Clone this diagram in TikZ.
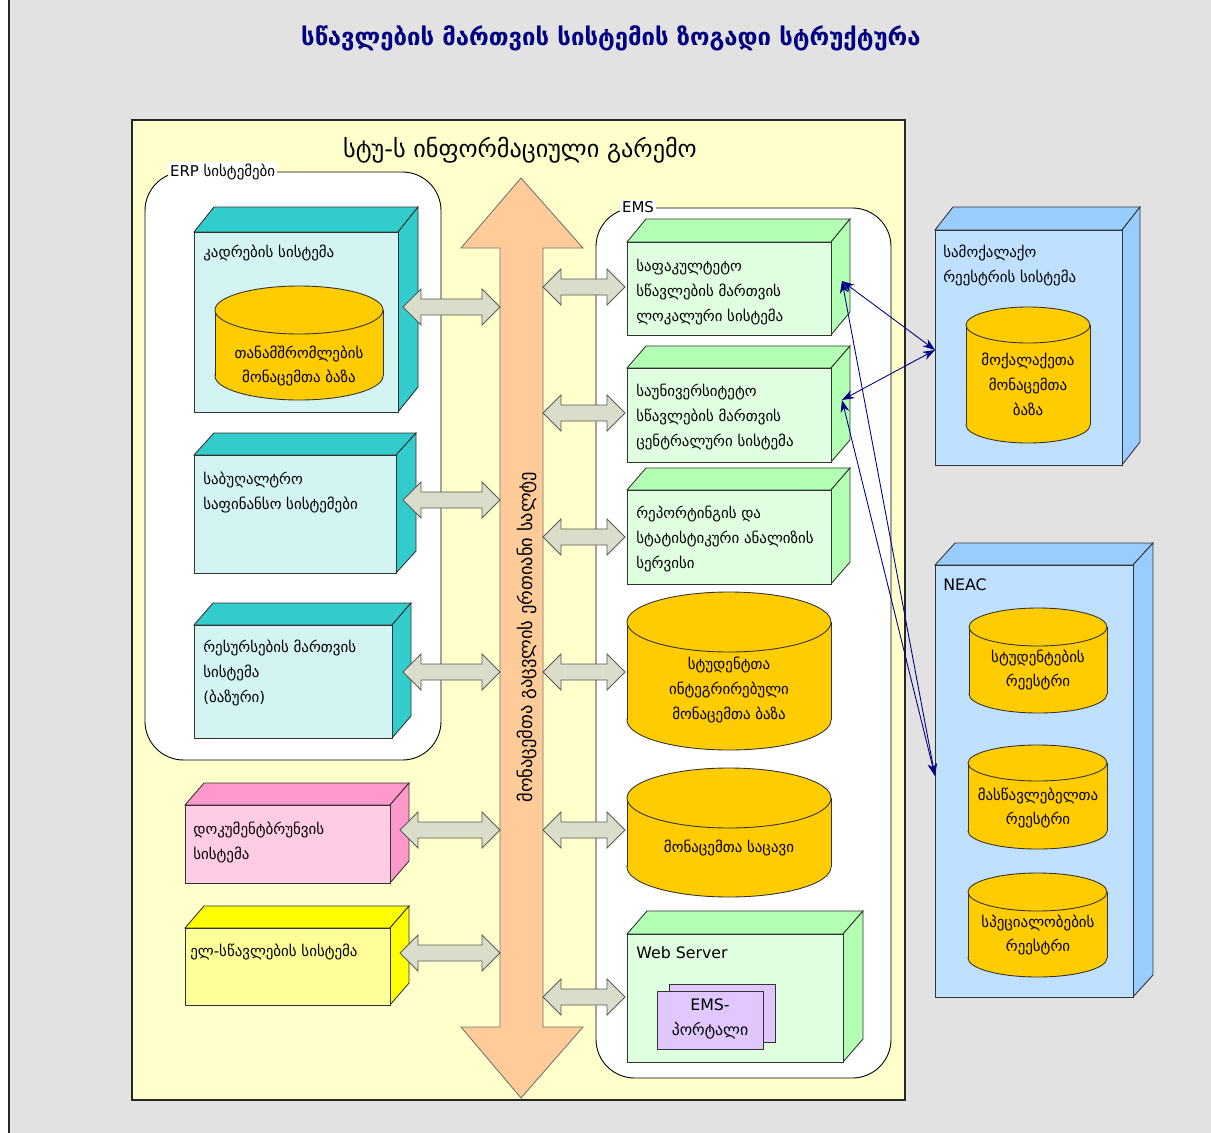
\documentclass[tikz,border=0pt]{standalone}
\usepackage{fontspec}
\setmainfont{DejaVu Sans}
\usetikzlibrary{arrows.meta}
\definecolor{bggray}{HTML}{E2E2E2}
\definecolor{panel}{HTML}{FFFFCC}
\definecolor{cyanF}{HTML}{D4F4F4}
\definecolor{cyanS}{HTML}{33CCCC}
\definecolor{greenF}{HTML}{E0FFE0}
\definecolor{greenS}{HTML}{B3FFB3}
\definecolor{pinkF}{HTML}{FFCCE6}
\definecolor{pinkS}{HTML}{FF99CC}
\definecolor{yelF}{HTML}{FFFF99}
\definecolor{yelS}{HTML}{FFFF00}
\definecolor{blueF}{HTML}{C0E0FF}
\definecolor{blueS}{HTML}{99CCFF}
\definecolor{cylcol}{HTML}{FFCC00}
\definecolor{orangeA}{HTML}{FFCC99}
\definecolor{grayA}{HTML}{DADDCA}
\definecolor{lav}{HTML}{E0C8FF}
\definecolor{navy}{HTML}{000080}
\newcommand\cuboid[8]{%
  \filldraw[boxline, fill=#8] (#1,#2) -- (#1+#5,#2-#6) -- (#3+#5,#2-#6) -- (#3,#2) -- cycle;
  \filldraw[boxline, fill=#8] (#3,#2) -- (#3+#5,#2-#6) -- (#3+#5,#4-#6) -- (#3,#4) -- cycle;
  \filldraw[boxline, fill=#7] (#1,#2) rectangle (#3,#4);}
\newcommand\cylind[5]{%
  \filldraw[boxline, fill=cylcol] ({(#1+#3)/2},#4) ellipse [x radius={(#3-#1)/2}, y radius=#5];
  \fill[cylcol] (#1,#2) rectangle (#3,#4);
  \draw[boxline] (#1,#2) -- (#1,#4) (#3,#2) -- (#3,#4);
  \filldraw[boxline, fill=cylcol] ({(#1+#3)/2},#2) ellipse [x radius={(#3-#1)/2}, y radius=#5];}
\newcommand\hdarrow[3]{%
  \filldraw[blockarr] (#1,#3) -- (#1+18,#3-18) -- (#1+18,#3-8) -- (#2-18,#3-8) -- (#2-18,#3-18)
    -- (#2,#3) -- (#2-18,#3+18) -- (#2-18,#3+8) -- (#1+18,#3+8) -- (#1+18,#3+18) -- cycle;}
\begin{document}
\begin{tikzpicture}[x=0.02cm,y=-0.02cm,
  boxline/.style={draw=black!80, line width=0.5pt},
  blockarr/.style={fill=grayA, draw=black!65, line width=0.5pt},
  txt/.style={anchor=north west, inner sep=0pt, align=left, font=\fontsize{8.5}{14.2}\selectfont},
  ctxt/.style={anchor=center, inner sep=0pt, align=center, font=\fontsize{8.5}{14.2}\selectfont},
  tag/.style={anchor=west, inner sep=1pt, fill=white, font=\fontsize{8.5}{10}\selectfont},
  link/.style={draw=navy, line width=0.5pt, {Stealth[length=7pt,width=5pt]}-{Stealth[length=7pt,width=5pt]}}]
\useasboundingbox (0,0) rectangle (1211,1133);
\fill[white] (0,0) rectangle (1211,1133);
\fill[bggray] (9,0) rectangle (1211,1133);
\draw[black!85, line width=0.8pt] (9,0) -- (9,1133);
% title
\node[font=\bfseries\fontsize{13.6}{15}\selectfont, text=navy] (title) at (611,38) {სწავლების მართვის სისტემის ზოგადი სტრუქტურა};
% main panel
\filldraw[fill=panel, draw=black!85, line width=0.6pt] (132,120) rectangle (905,1100);
\node[font=\fontsize{13.8}{15}\selectfont] (sub) at (520,150) {სტუ-ს ინფორმაციული გარემო};
% rounded groups
\filldraw[fill=white, draw=black, line width=0.5pt, rounded corners=22] (145,172) rectangle (441,760);
\node[tag] (erp) at (168,172) {ERP სისტემები};
\filldraw[fill=white, draw=black, line width=0.5pt, rounded corners=22] (596,208) rectangle (891,1078);
\node[tag] (ems) at (620,207) {EMS};
% big vertical arrow
\filldraw[fill=orangeA, draw=black!55, line width=0.5pt] (521,178) -- (583,248) -- (543,248) -- (543,1027) -- (583,1027)
  -- (521,1098) -- (461,1027) -- (500,1027) -- (500,248) -- (461,248) -- cycle;
\node[rotate=90, font=\fontsize{10.5}{12}\selectfont] (bus) at (527,637) {მონაცემთა გაცვლის ერთიანი სალტე};
% left cuboids
\cuboid{194}{232}{398}{412}{20}{25}{cyanF}{cyanS}
\node[txt] (b1) at (203,245) {კადრების სისტემა};
\cylind{215}{310}{383}{376}{24}
\node[ctxt] (c1) at (299,366) {თანამშრომლების\\მონაცემთა ბაზა};
\cuboid{194}{455}{396}{573}{20}{22}{cyanF}{cyanS}
\node[txt] (b2) at (203,472) {საბუღალტრო\\საფინანსო სისტემები};
\cuboid{194}{625}{392}{738}{19}{22}{cyanF}{cyanS}
\node[txt] (b3) at (203,640) {რესურსების მართვის\\სისტემა\\(ბაზური)};
\cuboid{185}{805}{390}{883}{19}{22}{pinkF}{pinkS}
\node[txt] (pk) at (193,822) {დოკუმენტბრუნვის\\სისტემა};
\cuboid{185}{928}{390}{1005}{19}{22}{yelF}{yelS}
\node[txt] (yl) at (190,944) {ელ-სწავლების სისტემა};
% EMS cuboids
\cuboid{627}{242}{831}{335}{19}{23}{greenF}{greenS}
\node[txt] (ea) at (636,259) {საფაკულტეტო\\სწავლების მართვის\\ლოკალური სისტემა};
\cuboid{627}{368}{831}{462}{19}{22}{greenF}{greenS}
\node[txt] (eb) at (636,384) {საუნივერსიტეტო\\სწავლების მართვის\\ცენტრალური სისტემა};
\cuboid{627}{490}{831}{584}{19}{22}{greenF}{greenS}
\node[txt] (ec) at (636,506) {რეპორტინგის და\\სტატისტიკური ანალიზის\\სერვისი};
\cylind{627}{622}{831}{720}{30}
\node[ctxt] (sdb) at (729,690) {სტუდენტთა\\ინტეგრირებული\\მონაცემთა ბაზა};
\cylind{627}{798}{831}{867}{30}
\node[ctxt] (dw) at (729,848) {მონაცემთა საცავი};
\cuboid{627}{934}{843}{1062}{20}{23}{greenF}{greenS}
\node[txt, font=\fontsize{9}{11}\selectfont] (ws) at (636,946) {Web Server};
\filldraw[boxline, fill=lav] (669,984) rectangle (775,1042);
\filldraw[boxline, fill=lav] (657,991) rectangle (763,1049);
\node[ctxt, font=\fontsize{9}{14.2}\selectfont] (portal) at (710,1019) {EMS-\\პორტალი};
% right blue
\cuboid{935}{230}{1122}{465}{18}{23}{blueF}{blueS}
\node[txt] (r1) at (943,245) {სამოქალაქო\\რეესტრის სისტემა};
\cylind{966}{325}{1090}{425}{18}
\node[ctxt] (r1c) at (1028,384) {მოქალაქეთა\\მონაცემთა\\ბაზა};
\cuboid{935}{565}{1133}{997}{20}{22}{blueF}{blueS}
\node[txt, font=\fontsize{9}{11}\selectfont] (neac) at (943,578) {NEAC};
\cylind{969}{627}{1107}{694}{19}
\node[ctxt] (n1) at (1038,670) {სტუდენტების\\რეესტრი};
\cylind{968}{763}{1107}{831}{18}
\node[ctxt] (n2) at (1038,808) {მასწავლებელთა\\რეესტრი};
\cylind{968}{892}{1107}{958}{19}
\node[ctxt] (n3) at (1038,935) {სპეციალობების\\რეესტრი};
% block arrows left
\hdarrow{403}{500}{307}
\hdarrow{403}{500}{500}
\hdarrow{403}{500}{672}
\hdarrow{400}{500}{830}
\hdarrow{400}{500}{953}
% block arrows right
\hdarrow{543}{625}{287}
\hdarrow{543}{625}{413}
\hdarrow{543}{625}{537}
\hdarrow{543}{625}{672}
\hdarrow{543}{625}{830}
\hdarrow{543}{625}{997}
% blue links
\coordinate (pA) at (842,281);
\coordinate (pB) at (842,400);
\coordinate (pR) at (935,350);
\coordinate (pN) at (935,776);
\draw[link] (pA) -- (pR);
\draw[link] (pB) -- (pR);
\draw[link] (pA) -- (pN);
\draw[link] (pB) -- (pN);
\end{tikzpicture}
\end{document}
